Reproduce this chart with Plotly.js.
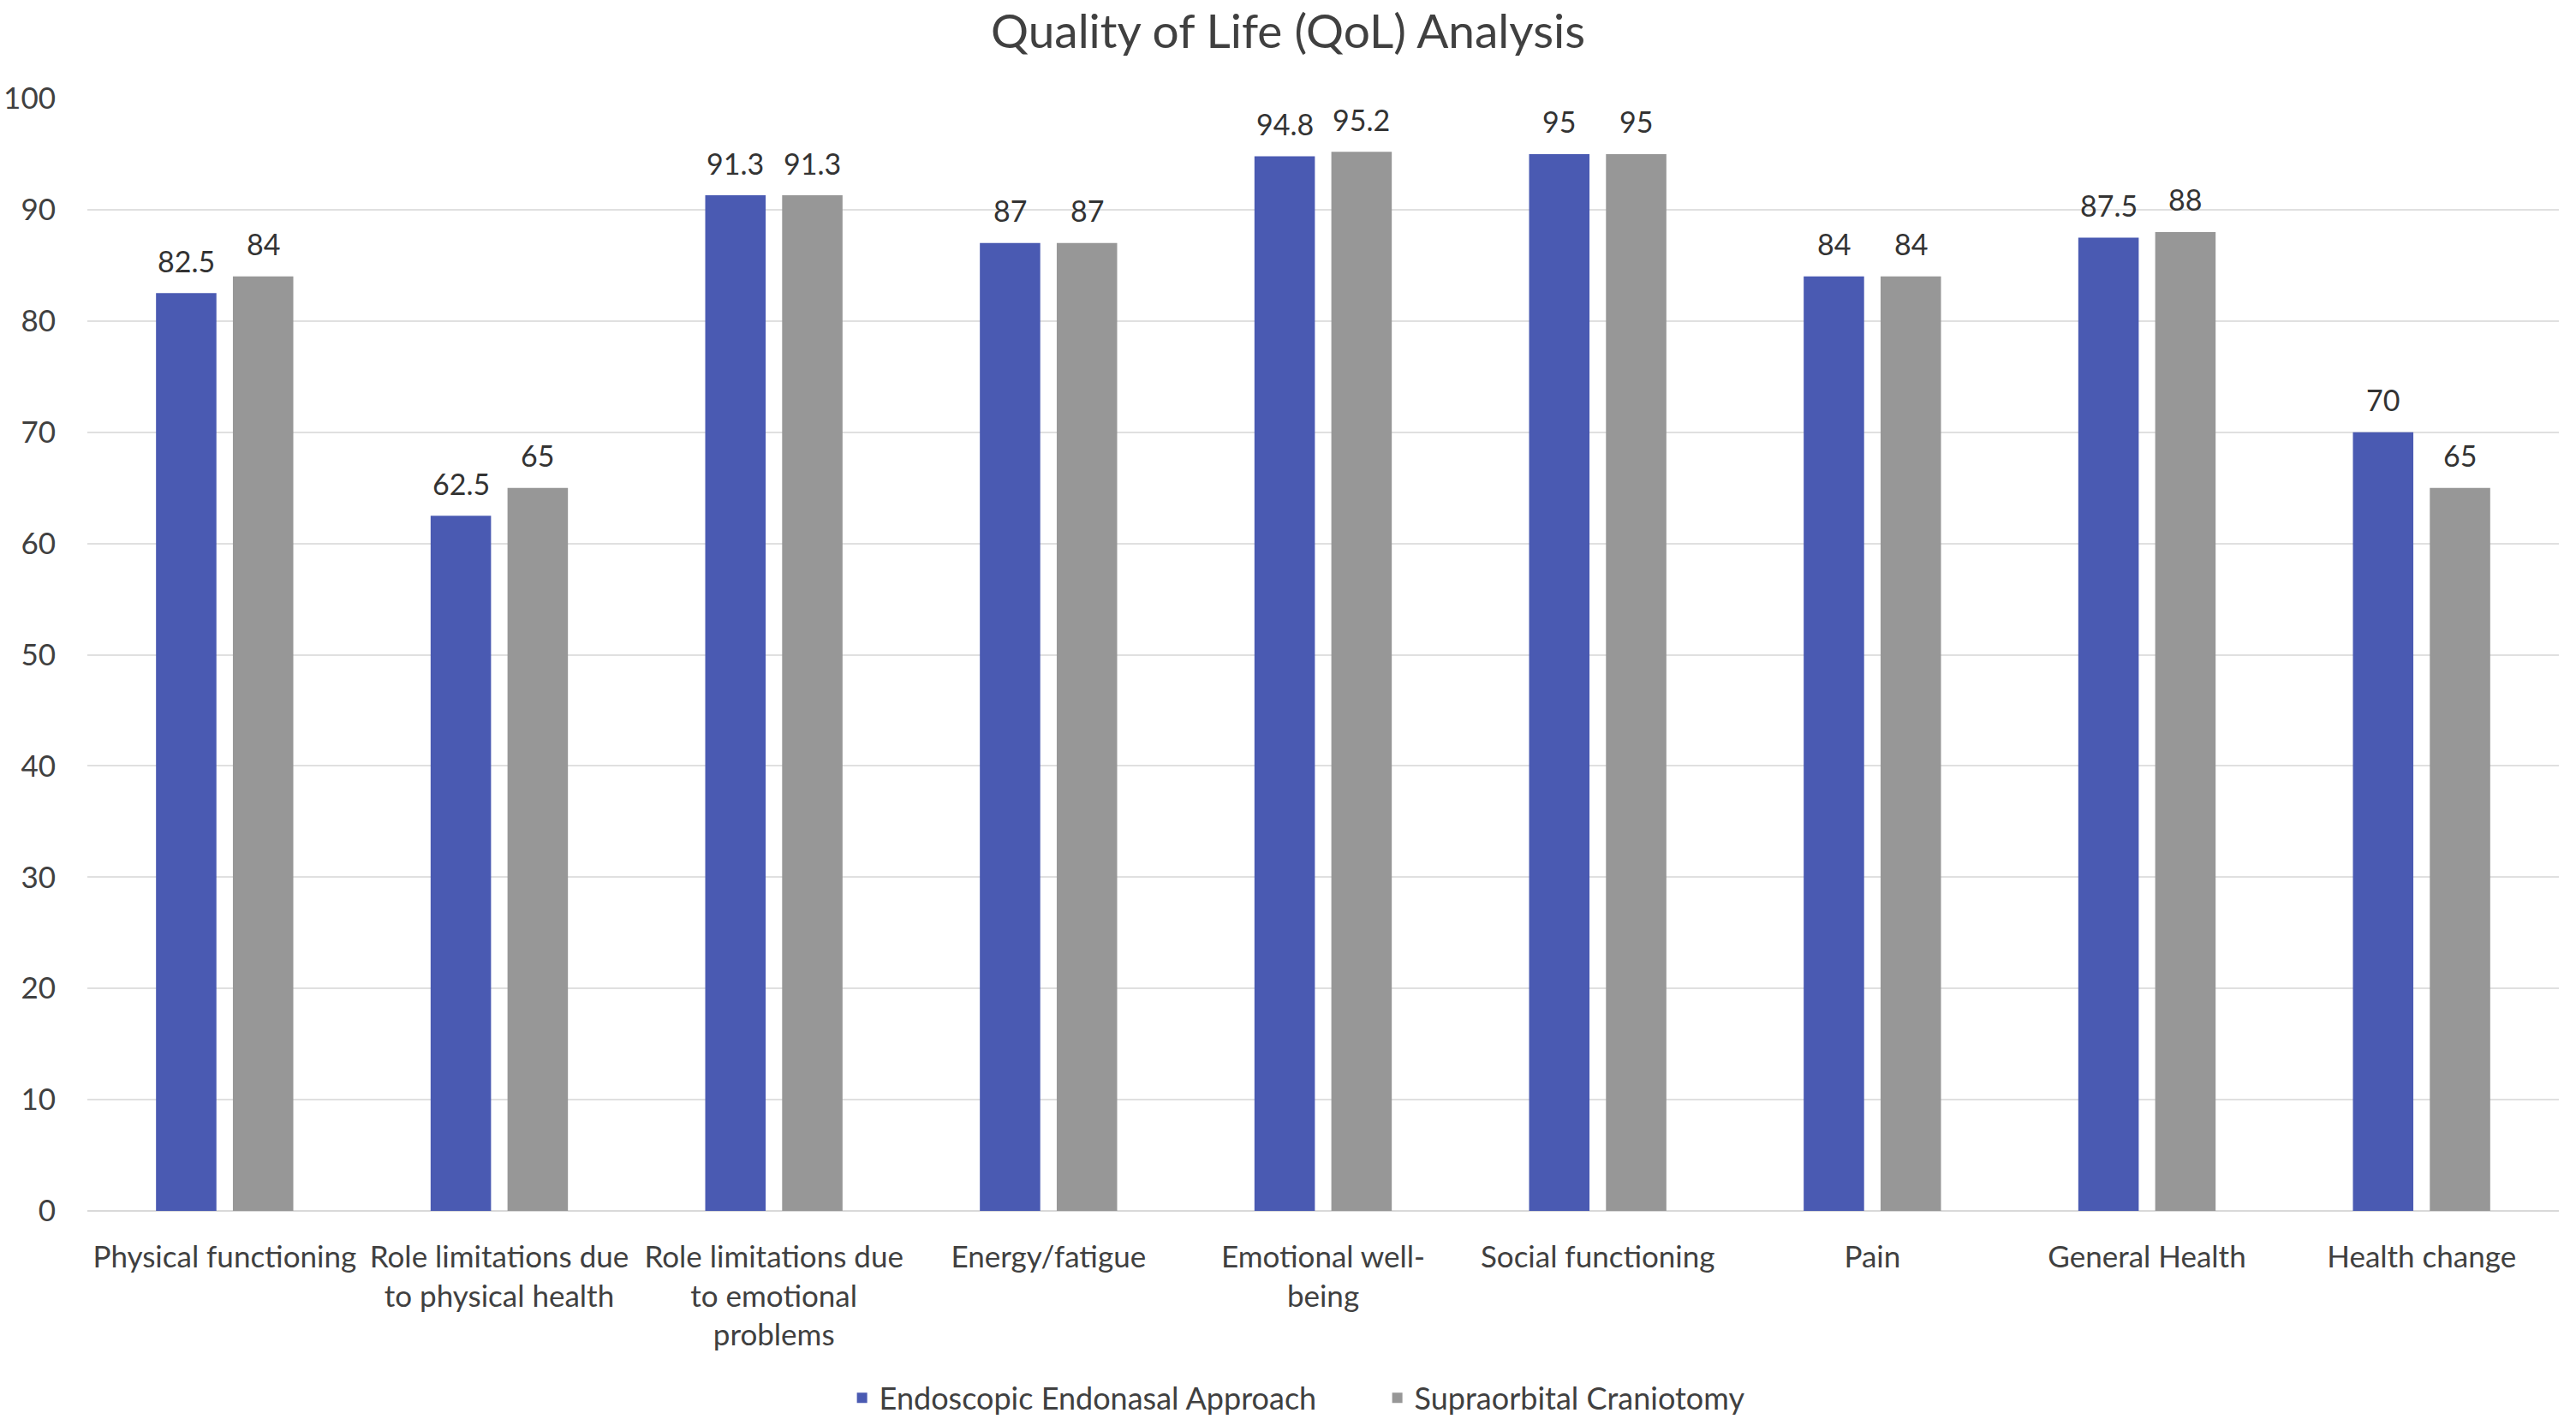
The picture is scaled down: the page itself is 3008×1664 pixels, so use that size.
<!DOCTYPE html>
<html>
<head>
<meta charset="utf-8">
<script src="https://cdn.plot.ly/plotly-3.0.1.min.js"></script>
<style>
  html, body { margin: 0; padding: 0; background: #fff; }
  #chart { width: 3008px; height: 1664px; }
</style>
</head>
<body>
<div id="chart"></div>
<script>
// categories as printed on the x axis (line breaks as in the picture)
var categories = [
    "Physical functioning",
    "Role limitations due<br>to physical health",
    "Role limitations due<br>to emotional<br>problems",
    "Energy/fatigue",
    "Emotional well-<br>being",
    "Social functioning",
    "Pain",
    "General Health",
    "Health change"
];
var endoscopic = [82.5, 62.5, 91.3, 87, 94.8, 95, 84, 87.5, 70];
var supraorbital = [84, 65, 91.3, 87, 95.2, 95, 84, 88, 65];
var seriesNames = ["Endoscopic Endonasal Approach", "Supraorbital Craniotomy"];
var yTicks = [0, 10, 20, 30, 40, 50, 60, 70, 80, 90, 100];

var font = "Lato, 'Liberation Sans', sans-serif";
var textColor = "#404040";
var barW = 0.22;
var offA = -0.25, offB = 0.03;

function barTrace(vals, name, color, off) {
    return {
        x: categories,
        y: vals,
        name: name,
        type: "bar",
        width: barW,
        offset: off,
        marker: { color: color }
    };
}

// value labels sitting above each bar
var labels = [];
function addLabels(vals, off) {
    vals.forEach(function(v, i) {
        labels.push({
            x: i + off + barW / 2,
            y: v,
            xref: "x",
            yref: "y",
            text: String(v),
            showarrow: false,
            yanchor: "middle",
            yshift: 38,
            font: { family: font, size: 34, color: "#333333" }
        });
    });
}
addLabels(endoscopic, offA);
addLabels(supraorbital, offB);

var layout = {
    width: 3008,
    height: 1664,
    paper_bgcolor: "#ffffff",
    plot_bgcolor: "#ffffff",
    font: { family: font, color: textColor, size: 34 },
    title: {
        text: "Quality of Life (QoL) Analysis",
        font: { family: font, size: 55, color: "#404040" },
        x: 0.5,
        xanchor: "center",
        y: 0.978,
        yanchor: "middle",
        yref: "container"
    },
    margin: { l: 102, r: 20, t: 115, b: 250 },
    barmode: "group",
    showlegend: true,
    legend: {
        orientation: "h",
        x: 0.328,
        xanchor: "left",
        xref: "container",
        y: 0.019,
        yanchor: "middle",
        yref: "container",
        font: { family: font, size: 36, color: textColor },
        itemwidth: 30,
        entrywidth: 580,
        traceorder: "normal"
    },
    annotations: labels,
    xaxis: {
        type: "category",
        showgrid: false,
        showline: false,
        ticks: "",
        ticklabelstandoff: 30,
        tickfont: { family: font, size: 35, color: textColor },
        tickangle: 0
    },
    yaxis: {
        range: [0, 100],
        tickvals: yTicks,
        showgrid: true,
        gridcolor: "#e0e0e0",
        gridwidth: 2,
        zeroline: true,
        zerolinecolor: "#d9d9d9",
        zerolinewidth: 2,
        showline: false,
        ticks: "",
        ticklabelstandoff: 36,
        tickfont: { family: font, size: 35, color: textColor }
    }
};

Plotly.newPlot("chart", [
    barTrace(endoscopic, seriesNames[0], "#4A5AB2", offA),
    barTrace(supraorbital, seriesNames[1], "#979797", offB)
], layout, { displayModeBar: false, staticPlot: true });
</script>
</body>
</html>
